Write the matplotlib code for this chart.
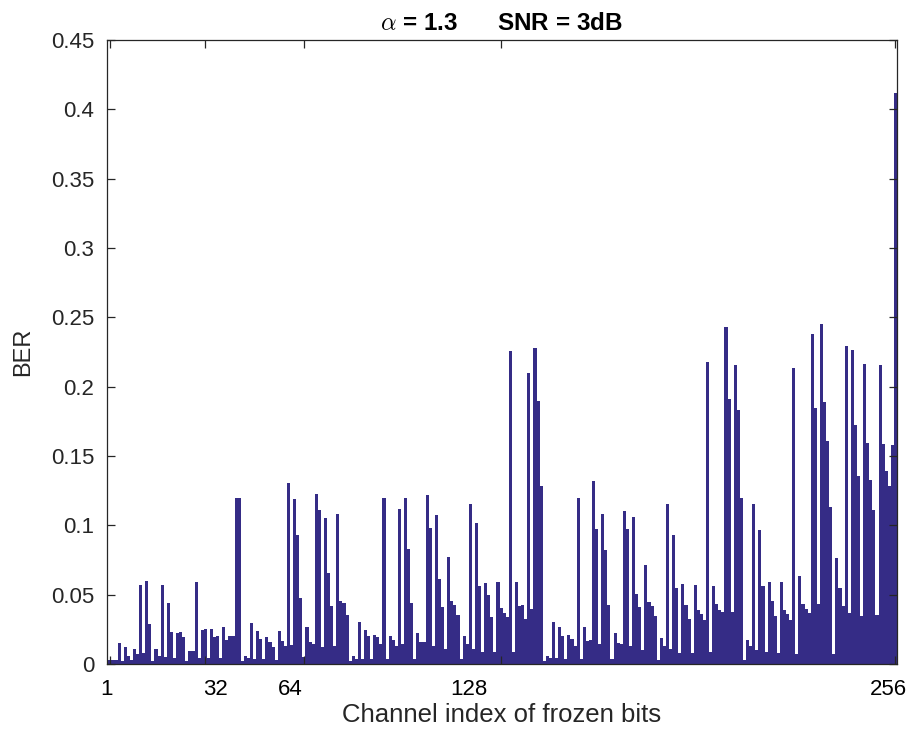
import numpy as np
import matplotlib
matplotlib.use("Agg")
import matplotlib.pyplot as plt

plt.rcParams['font.family'] = ['Liberation Sans', 'DejaVu Sans']
plt.rcParams['mathtext.fontset'] = 'cm'

# BER per channel index, split in chunks
ber_001_043 = [0.003, 0.003, 0.003, 0.015, 0.002, 0.012, 0.006, 0.003, 0.011, 0.007,
               0.057, 0.008, 0.0595, 0.029, 0.002, 0.011, 0.006, 0.057, 0.005, 0.044,
               0.023, 0.004, 0.022, 0.023, 0.0197, 0.002, 0.009, 0.009, 0.059, 0.004,
               0.0245, 0.0254, 0.004, 0.0254, 0.0195, 0.02, 0.004, 0.0267, 0.0175, 0.02,
               0.0205, 0.1197, 0.12]
ber_044_087 = [0.0024, 0.006, 0.0043, 0.0293, 0.0036, 0.0235, 0.018, 0.0036, 0.0197, 0.016,
               0.012, 0.003, 0.0235, 0.0168, 0.0127, 0.1303, 0.0137, 0.1188, 0.093, 0.0473,
               0.005, 0.0264, 0.016, 0.0144, 0.1229, 0.111, 0.012, 0.1056, 0.0655, 0.042,
               0.0127, 0.108, 0.0456, 0.0437, 0.0355, 0.0024, 0.0055, 0.0036, 0.030, 0.0036,
               0.0245, 0.0204, 0.0036, 0.0206]
ber_088_130 = [0.0192, 0.0144, 0.12, 0.0036, 0.0204, 0.0175, 0.0127, 0.1116, 0.0144, 0.1197,
               0.0828, 0.0439, 0.0036, 0.0223, 0.016, 0.0155, 0.1217, 0.0977, 0.0127, 0.1075,
               0.0612, 0.0408, 0.0108, 0.0775, 0.0456, 0.0425, 0.0355, 0.0036, 0.02, 0.0144,
               0.1152, 0.0108, 0.102, 0.056, 0.0084, 0.0583, 0.05, 0.0336, 0.0084, 0.0593,
               0.0401, 0.0367, 0.0336]
ber_131_174 = [0.226, 0.0084, 0.0588, 0.0415, 0.0425, 0.0324, 0.210, 0.0396, 0.228, 0.19,
               0.128, 0.0024, 0.0055, 0.0043, 0.030, 0.004, 0.0264, 0.0204, 0.0036, 0.0206,
               0.018, 0.0132, 0.12, 0.0036, 0.0264, 0.0168, 0.0175, 0.1318, 0.0972, 0.0144,
               0.1078, 0.082, 0.0425, 0.0036, 0.0223, 0.0151, 0.0144, 0.1104, 0.0972, 0.0127,
               0.1063, 0.0504, 0.0408, 0.0103]
ber_175_217 = [0.0713, 0.0449, 0.0415, 0.0343, 0.003, 0.0187, 0.0127, 0.1152, 0.0108, 0.0929,
               0.0545, 0.0079, 0.0576, 0.0425, 0.0324, 0.0079, 0.0573, 0.0391, 0.036, 0.0319,
               0.2177, 0.0089, 0.0559, 0.0432, 0.0391, 0.0372, 0.2431, 0.1913, 0.0372, 0.2155,
               0.1829, 0.12, 0.003, 0.0175, 0.0132, 0.1157, 0.0103, 0.0965, 0.0564, 0.0084,
               0.0588, 0.0456, 0.0343]
ber_218_256 = [0.0079, 0.0593, 0.0389, 0.036, 0.0319, 0.2131, 0.0072, 0.0631, 0.0432, 0.0396,
               0.0367, 0.2383, 0.1848, 0.0432, 0.2455, 0.1891, 0.1606, 0.113, 0.0072, 0.0763,
               0.0545, 0.042, 0.2292, 0.0367, 0.2263, 0.1723, 0.1356, 0.0343, 0.2165, 0.1591,
               0.1327, 0.1111, 0.0355, 0.2155, 0.1584, 0.139, 0.1284, 0.1577, 0.412]

ber = np.array(ber_001_043 + ber_044_087 + ber_088_130 + ber_131_174 + ber_175_217 + ber_218_256)
idx = np.arange(1, len(ber) + 1)

tick_pos = [1, 32, 64, 128, 256]
tick_text = ['1', '32', '64', '128', '256']
# where the labels sit in the reference (they are shifted from the tick marks)
label_pos = [0, 35.3, 59.6, 117.4, 253.6]
yticks = np.arange(0, 0.451, 0.05)
ytick_text = ['0', '0.05', '0.1', '0.15', '0.2', '0.25', '0.3', '0.35', '0.4', '0.45']

fig = plt.figure(figsize=(9.17, 7.31), dpi=100)
ax = fig.add_axes([0.1164, 0.0917, 0.9782 - 0.1164, 0.9453 - 0.0917])

ax.bar(idx, ber, width=1.0, color='#352c86', linewidth=0, antialiased=False)

ax.set_xlim(0.5, len(ber) + 0.5)
ax.set_ylim(0, 0.45)

ax.set_xticks(tick_pos)
ax.set_xticklabels([])
ax.set_xticks(label_pos, minor=True)
ax.set_xticklabels(tick_text, minor=True)
ax.tick_params(axis='x', which='minor', length=0, pad=11, labelsize=16)
ax.set_yticks(yticks)
ax.set_yticklabels(ytick_text)
ax.tick_params(axis='both', which='major', direction='in', length=5.8, width=0.9,
               top=True, right=True, labelsize=16, colors='#262626')
ax.tick_params(axis='y', pad=9)

for s in ax.spines.values():
    s.set_linewidth(0.9)
    s.set_color('#262626')

ax.set_xlabel('Channel index of frozen bits', fontsize=18.5, color='#262626', labelpad=2)
ax.set_ylabel('BER', fontsize=17, color='#262626', labelpad=12)
ax.set_title(r'$\alpha$ = 1.3      SNR = 3dB', fontsize=17.5, fontweight='bold', pad=7)

fig.savefig('out.png', dpi=100)
